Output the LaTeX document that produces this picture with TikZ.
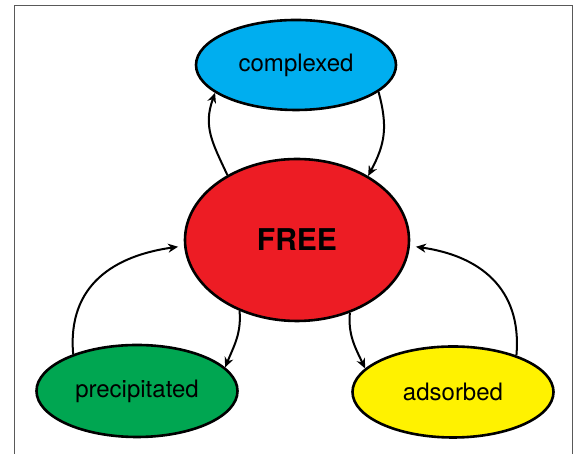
\documentclass[tikz,border=0pt]{standalone}
\usepackage{fontspec}
\setmainfont{TeX Gyre Heros}
\usetikzlibrary{arrows.meta,shapes.geometric}
\definecolor{cplxblue}{RGB}{0,174,239}
\definecolor{freered}{RGB}{237,28,36}
\definecolor{precgreen}{RGB}{0,166,81}
\definecolor{adsyellow}{RGB}{255,242,0}
\begin{document}
\begin{tikzpicture}[x=1pt,y=1pt]
        \tikzstyle{VertexStyle}=[ellipse, draw, line width=2.6pt, inner sep=0pt,
          font=\fontsize{24}{28}\selectfont]
        \tikzstyle{EdgeStyle}=[-{Stealth[length=10pt,width=9pt]}, line width=2pt]
        \useasboundingbox (0,0) rectangle (579,454);
        % frame
        \draw[gray!70!black, line width=1.2pt] (14.5,-5) -- (14.5,448.3) -- (572.5,448.3) -- (572.5,-5);
        % vertices
        \node[VertexStyle, fill=cplxblue, minimum width=200pt, minimum height=90pt] (C) at (296,389) {complexed};
        \node[VertexStyle, fill=freered, minimum width=224pt, minimum height=162pt,
          font=\fontsize{30}{34}\selectfont\bfseries] (F) at (297,214) {FREE};
        \node[VertexStyle, fill=precgreen, minimum width=201pt, minimum height=92pt] (P) at (137,63) {precipitated};
        \node[VertexStyle, fill=adsyellow, minimum width=201pt, minimum height=91pt] (A) at (453,62) {adsorbed};
        % arrows
        \draw[EdgeStyle] (F.137) to[out=115, in=250, looseness=1.1] (C.199);
        \draw[EdgeStyle] (C.-18) to[out=-75, in=62, looseness=1.1] (F.42);
        \draw[EdgeStyle, shorten >=6pt] (P.150) to[out=95, in=188, looseness=1.15] (F.183);
        \draw[EdgeStyle] (F.231) to[out=-85, in=68] (P.15);
        \draw[EdgeStyle] (F.306) to[out=-95, in=115] (A.165);
        \draw[EdgeStyle, shorten >=6pt] (A.30) to[out=85, in=-8, looseness=1.15] (F.357);
\end{tikzpicture}
\end{document}
